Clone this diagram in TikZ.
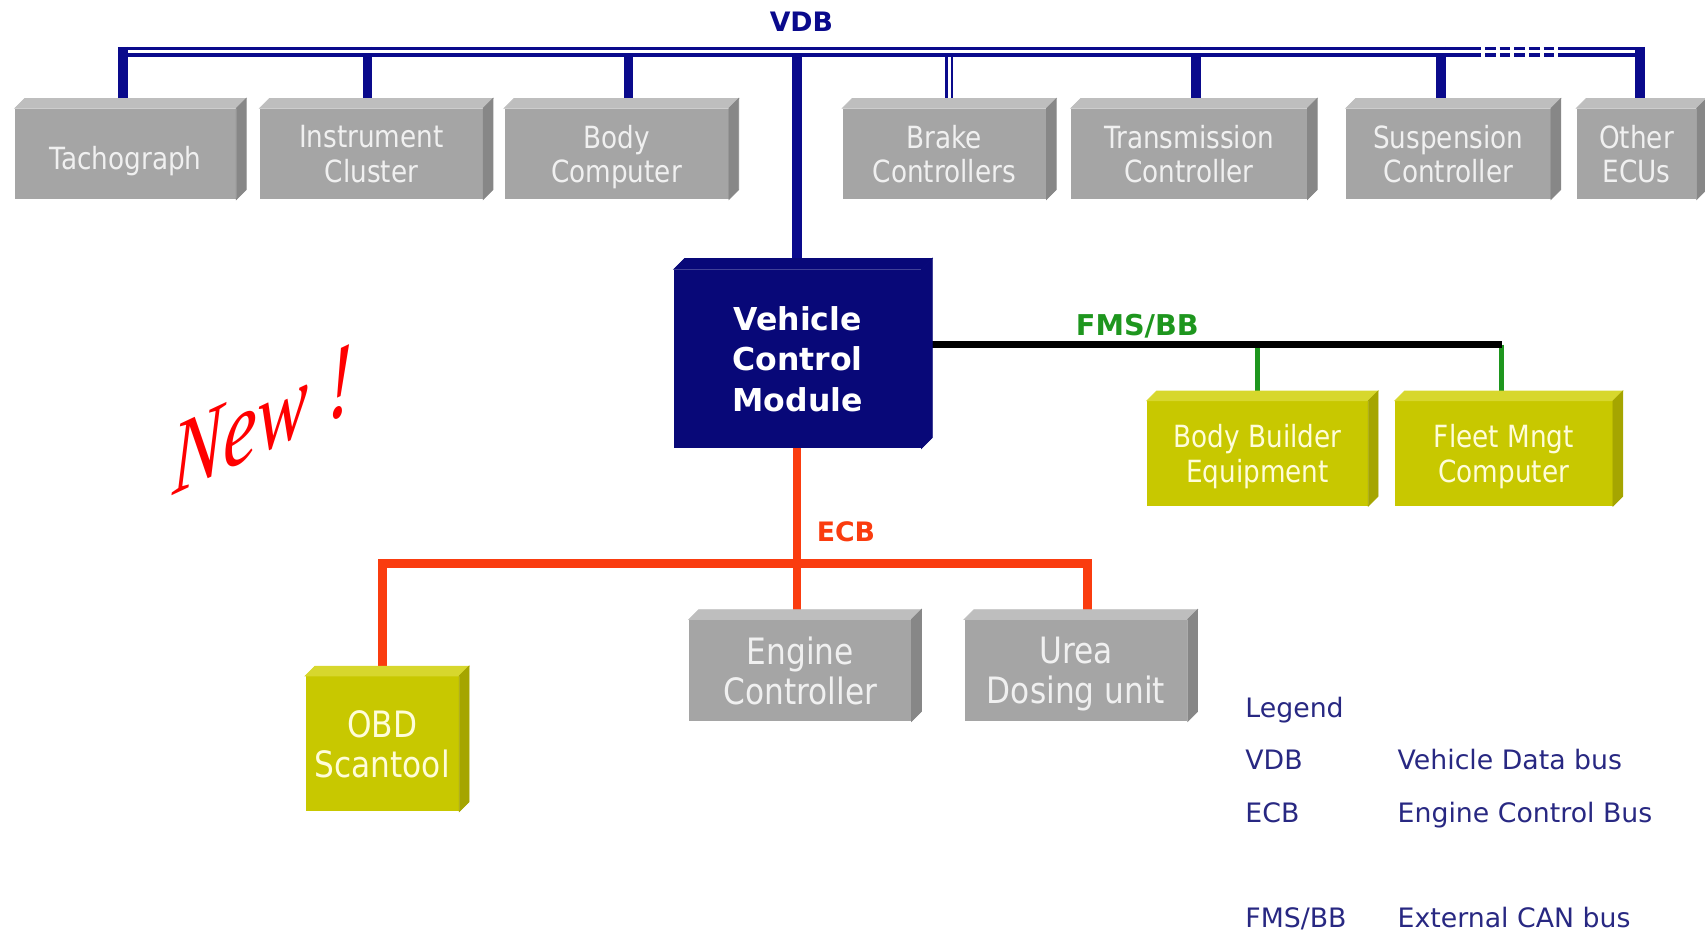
\documentclass[tikz,border=0pt]{standalone}
\usepackage{fontspec}
\setmainfont{DejaVu Sans}
\newfontfamily\ecufont{DejaVu Sans}[FakeStretch=0.86]
\newfontfamily\wordart{Liberation Serif}
\usetikzlibrary{calc}

\definecolor{vdbblue}{RGB}{10,10,140}
\definecolor{vcmblue}{RGB}{8,8,120}
\definecolor{ecbred}{RGB}{250,60,15}
\definecolor{fmsgreen}{RGB}{30,150,30}
\definecolor{grayF}{RGB}{165,165,165}
\definecolor{grayT}{RGB}{190,190,190}
\definecolor{grayS}{RGB}{135,135,135}
\definecolor{yelF}{RGB}{200,200,0}
\definecolor{yelT}{RGB}{215,215,45}
\definecolor{yelS}{RGB}{165,165,0}
\definecolor{legendblue}{RGB}{40,40,130}

\tikzset{
  sz/.style 2 args={minimum width=#1*0.02cm, minimum height=#2*0.02cm},
  ecu/.style={fill=grayF, text=white!94!black, align=center, inner sep=0pt, text depth=0pt,
    execute at begin node={\rule{0pt}{1em}},
    font=\ecufont\fontsize{16pt}{18.2pt}\selectfont},
  ecubig/.style={ecu, font=\ecufont\fontsize{19pt}{21pt}\selectfont},
  ext/.style={ecu, fill=yelF, text=yellow!15!white},
  vdbbus/.style={draw=vdbblue, line width=5.5pt},
  vdbinner/.style={draw=white, line width=1.4pt},
  vdbdrop/.style={draw=vdbblue, line width=5pt},
  ecb/.style={draw=ecbred, line width=4.5pt},
  fms/.style={draw=black, line width=3.4pt},
  fmsdrop/.style={draw=fmsgreen, line width=2.4pt},
  buslabel/.style={font=\bfseries\fontsize{14pt}{14pt}\selectfont},
  legend/.style={text=legendblue, anchor=base west, inner sep=0pt, font=\fontsize{14pt}{14pt}\selectfont}
}

\begin{document}
\begin{tikzpicture}[x=0.02cm, y=-0.02cm]
\useasboundingbox (0,0) rectangle (1568,861);

\node[ecu, sz={203}{83}] (tacho) at (115.5,141.5) {Tachograph};
\node[ecu, sz={205}{83}] (instr) at (341.5,141.5) {Instrument\\Cluster};
\node[ecu, sz={206}{83}] (bodyc) at (567,141.5) {Body\\Computer};
\node[ecu, sz={187}{83}] (brake) at (868.5,141.5) {Brake\\Controllers};
\node[ecu, sz={217}{83}] (trans) at (1093.5,141.5) {Transmission\\Controller};
\node[ecu, sz={188}{83}] (susp) at (1332,141.5) {Suspension\\Controller};
\node[ecu, sz={110}{83}] (other) at (1505,141.5) {Other\\ECUs};

\node[fill=vcmblue, text=white, align=center, inner sep=0pt, sz={227}{164}, text depth=0pt,
  font=\bfseries\fontsize{16.5pt}{21.3pt}\selectfont] (vcm) at (733.5,330) {Vehicle\\Control\\Module};

\node[ext, sz={203}{96}] (bbe) at (1156.5,417) {Body Builder\\Equipment};
\node[ext, sz={200}{96}] (fleet) at (1383,417) {Fleet Mngt\\Computer};

\node[ecubig, sz={204}{93}] (engine) at (736,616.5) {Engine\\Controller};
\node[ecubig, sz={205}{93}] (urea) at (989.5,616.5) {Urea\\Dosing unit};
\node[ecubig, fill=yelF, text=yellow!15!white, sz={141}{124}] (obd) at (351.5,684) {OBD\\Scantool};

\coordinate (vdbL) at (108.5,47.8);
\coordinate (vdbR) at (1512.5,47.8);
\coordinate (dashA) at (1352,47.8);
\coordinate (dashB) at (1437,47.8);
\coordinate (vdbC) at (733,43);
\foreach \x/\n in {113/tacho, 338/instr, 578/bodyc, 1100/trans, 1325/susp, 1508/other} {
  \coordinate (d\n) at (\x,43);
  \draw[vdbdrop] (d\n) -- (d\n |- \n.north);
}
\coordinate (dbrake) at (873,43);
\draw[draw=vdbblue, line width=1.3pt, double=white, double distance=1.4pt] (dbrake) -- (dbrake |- brake.north);
\draw[vdbdrop] (vdbC) -- (vdbC |- vcm.north);
\draw[vdbbus] (vdbL) -- (dashA);
\draw[vdbbus] (dashB) -- (vdbR);
\draw[vdbbus, dash pattern=on 5.6pt off 2.1pt] (dashA) -- (dashB);
\draw[vdbinner] ([xshift=9*0.02cm, yshift=0.5*0.02cm]vdbL) -- ([xshift=-9*0.02cm, yshift=0.5*0.02cm]vdbR);
\node[buslabel, text=vdbblue] (vdb) at (737,20) {VDB};

\coordinate (fmsR) at (1381,317);
\draw[fmsdrop] (bbe.north |- fmsR) -- (bbe.north);
\draw[fmsdrop] (fmsR) -- (fmsR |- fleet.north);
\draw[fms] (vcm.east |- fmsR) -- (fmsR);
\node[buslabel, text=fmsgreen, font=\bfseries\fontsize{15pt}{15pt}\selectfont] (fmsbb) at (1046,300) {FMS/BB};

\coordinate (ecbC) at (733,518);
\coordinate (ecbL) at (352,518);
\coordinate (ecbR) at (1000,518);
\draw[ecb] (ecbC |- vcm.south) -- (ecbC |- engine.north);
\draw[ecb] (ecbL |- obd.north) -- (ecbL) -- (ecbR) -- (ecbR |- urea.north);
\node[buslabel, text=ecbred] (ecblabel) at (778,489) {ECB};

\foreach \n/\t/\s/\d in {tacho/grayT/grayS/9, instr/grayT/grayS/9, bodyc/grayT/grayS/9, brake/grayT/grayS/9,
  trans/grayT/grayS/9, susp/grayT/grayS/9, other/grayT/grayS/9, engine/grayT/grayS/9, urea/grayT/grayS/9,
  bbe/yelT/yelS/9, fleet/yelT/yelS/9, obd/yelT/yelS/9, vcm/vcmblue/vcmblue/10} {
  \filldraw[fill=\t, draw=\t, line width=0.4pt] (\n.north west) -- ++(\d,-\d) -- ($(\n.north east)+(\d,-\d)$) -- (\n.north east) -- cycle;
  \filldraw[fill=\s, draw=\s, line width=0.4pt] (\n.north east) -- ++(\d,-\d) -- ($(\n.south east)+(\d,-\d)$) -- (\n.south east) -- cycle;
}

\node[text=red, font=\wordart\itshape\fontsize{40pt}{40pt}\selectfont, yslant=0.47, yscale=1.35,
  anchor=base west, inner sep=0pt] (newtag) at (158,456) {New !};

\node[legend] (lg) at (1145,660) {Legend};
\node[legend] (lg1) at (1145,708) {VDB};
\node[legend] (lg2) at (1145,756) {ECB};
\node[legend] (lg3) at (1145,853) {FMS/BB};
\node[legend] (lg1t) at (1285,708) {Vehicle Data bus};
\node[legend] (lg2t) at (1285,756) {Engine Control Bus};
\node[legend] (lg3t) at (1285,853) {External CAN bus};
\end{tikzpicture}
\end{document}
